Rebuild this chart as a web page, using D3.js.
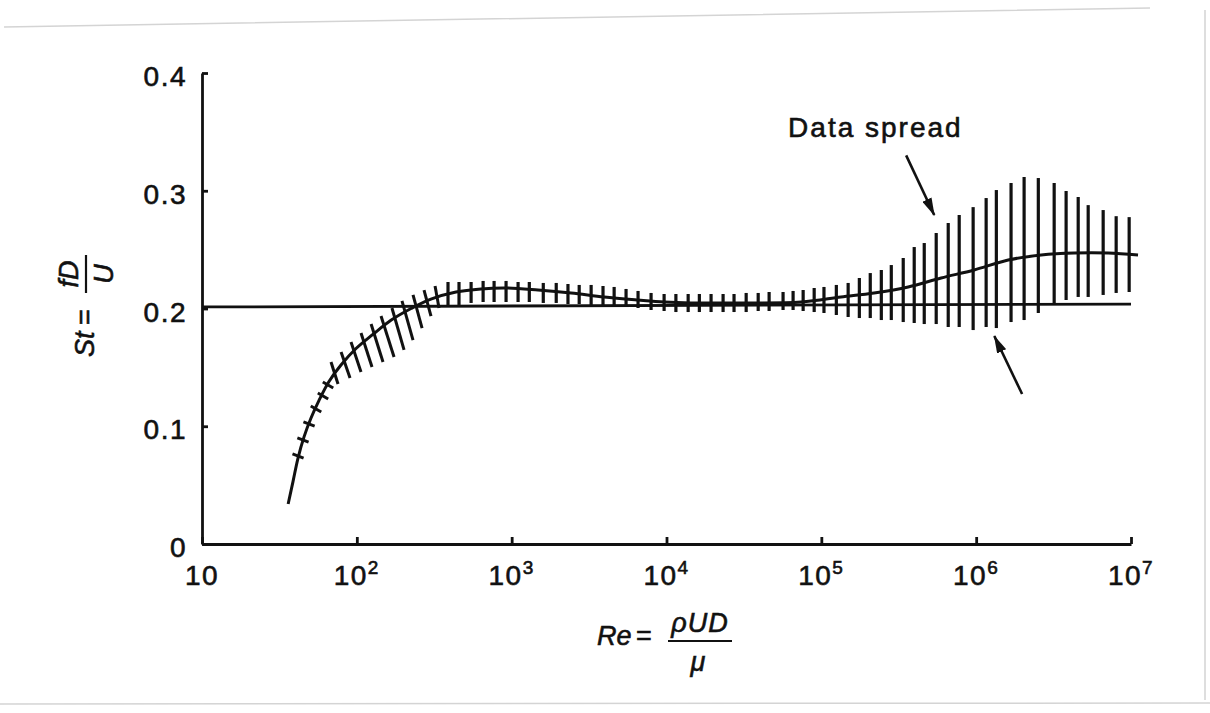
<!DOCTYPE html>
<html>
<head>
<meta charset="utf-8">
<script src="https://cdn.jsdelivr.net/npm/d3@7"></script>
<style>
    body { margin: 0; background: #fff; }
    svg { display: block; font-family: "Liberation Sans", Arial, Helvetica, sans-serif; }
    svg text { stroke: #111; stroke-width: 0.6px; }
    .axis path, .axis line { stroke: #111; stroke-width: 2.8; }
    .axis text { font-size: 28px; fill: #111; letter-spacing: 1.5px; }
    .math { font-style: italic; font-size: 27px; fill: #111; }
</style>
</head>
<body>
<div id="chart"></div>
<script>
    // main curve (Re, St)
    const curveRe = [36, 38.7, 41.7, 45.6, 50.6, 57, 66.1, 79, 98.8, 127, 166, 224, 301, 437, 634, 920,
        1480, 2420, 3950, 6560, 9660, 14400, 30300, 74100, 134000, 219000, 364000, 594000, 971000,
        1.61e6, 2.63e6, 4.3e6, 7.13e6, 1.11e7];
    const curveSt = [0.034, 0.053, 0.073, 0.091, 0.107, 0.122, 0.138, 0.152, 0.166, 0.178, 0.190, 0.200,
        0.208, 0.214, 0.2166, 0.2174, 0.2157, 0.2132, 0.2098, 0.2072, 0.2055, 0.2047, 0.2047, 0.2055,
        0.2098, 0.2132, 0.2183, 0.2259, 0.2327, 0.2412, 0.2454, 0.2471, 0.2471, 0.2454];

    // St = 0.2 reference line
    const refRe = [10, 1e7];
    const refSt = [0.2013, 0.2038];

    // slanted scatter marks at low Re: [Re top, St top, Re bottom, St bottom]
    const slantMarks = [
        [38.4, 0.0765, 45.3, 0.0730], [41.3, 0.0901, 48.8, 0.0865], [45.2, 0.1037, 53.4, 0.1001],
        [50.4, 0.1172, 58.9, 0.1121], [56.0, 0.1282, 65.3, 0.1231], [60.3, 0.1376, 70.4, 0.1325],
        [68.1, 0.1546, 75.6, 0.1359], [79.1, 0.1631, 90.4, 0.1410], [91.7, 0.1715, 106.4, 0.1461],
        [106.4, 0.1792, 125.3, 0.1503], [123.6, 0.1868, 147.6, 0.1546], [143.3, 0.1936, 173.9, 0.1588],
        [168.6, 0.2004, 201.8, 0.1648], [195.7, 0.2064, 230.6, 0.1732], [230.6, 0.2115, 263.8, 0.1834],
        [271.6, 0.2157, 301.2, 0.1936], [320, 0.2191, 339.5, 0.2004]
    ];

    // vertical data spread bars
    const spreadRe = [388, 457, 547, 654, 770, 920, 1100, 1300, 1600, 1940, 2310, 2730, 3260, 3890, 4590,
        5480, 6550, 7950, 9650, 11500, 13800, 16300, 19400, 23200, 27300, 32700, 39100, 46000, 56600,
        65700, 76300, 89900, 104000, 125000, 149000, 176000, 207000, 244000, 283000, 338000, 398000,
        462000, 552000, 660000, 777000, 956000, 1.16e6, 1.35e6, 1.68e6, 2.04e6, 2.52e6, 3.19e6, 3.81e6,
        4.56e6, 5.29e6, 6.61e6, 8.02e6, 9.73e6];
    const spreadHi = [0.2225, 0.2225, 0.2225, 0.2234, 0.2234, 0.2234, 0.2225, 0.2225, 0.2217, 0.2217,
        0.2208, 0.2200, 0.2200, 0.2191, 0.2183, 0.2166, 0.2149, 0.2132, 0.2123, 0.2123, 0.2123, 0.2123,
        0.2123, 0.2123, 0.2123, 0.2132, 0.2132, 0.2140, 0.2140, 0.2149, 0.2157, 0.2174, 0.2183, 0.2200,
        0.2217, 0.2259, 0.2301, 0.2327, 0.2369, 0.2429, 0.2522, 0.2556, 0.2641, 0.2726, 0.2794, 0.2861,
        0.2938, 0.3006, 0.3066, 0.3117, 0.3108, 0.3066, 0.2998, 0.2947, 0.2878, 0.2836, 0.2784, 0.2776];
    const spreadLo = [0.2013, 0.2030, 0.2047, 0.2055, 0.2055, 0.2055, 0.2055, 0.2055, 0.2047, 0.2047,
        0.2038, 0.2038, 0.2030, 0.2021, 0.2021, 0.2013, 0.2004, 0.1987, 0.1979, 0.1970, 0.1970, 0.1970,
        0.1970, 0.1970, 0.1970, 0.1970, 0.1979, 0.1979, 0.1987, 0.1987, 0.1979, 0.1970, 0.1962, 0.1945,
        0.1928, 0.1919, 0.1919, 0.1902, 0.1902, 0.1885, 0.1877, 0.1868, 0.1868, 0.1843, 0.1843, 0.1817,
        0.1843, 0.1834, 0.1885, 0.1902, 0.1962, 0.2030, 0.2072, 0.2098, 0.2098, 0.2115, 0.2132, 0.2140];

    const xTicks = [10, 1e2, 1e3, 1e4, 1e5, 1e6, 1e7];
    const yTicks = [0, 0.1, 0.2, 0.3, 0.4];

    const noteText = "Data spread";
    const notePos = [6.1e4, 0.3456];
    // arrows: [Re from, St from, Re to, St to]
    const arrows = [[3.53e5, 0.330, 5.36e5, 0.2794], [1.98e6, 0.1274, 1.31e6, 0.1766]];

    let margin = {top: 73, right: 79, bottom: 169, left: 202},
        width = 1210 - margin.left - margin.right,
        height = 713 - margin.top - margin.bottom;

    let root = d3.select("#chart")
        .append("svg")
        .attr("width", 1210)
        .attr("height", 713);

    // faint scanned page edges
    root.append("path")
        .attr("d", "M4,27 L1150,8 M1205,10 L1205,700 M0,704 L1210,703")
        .attr("fill", "none")
        .attr("stroke", "#d4d4d4")
        .attr("stroke-width", 1.5);

    let svg = root.append("g")
        .attr("transform", `translate(${margin.left}, ${margin.top})`);

    let defs = root.append("defs");
    defs.append("marker")
        .attr("id", "arrow")
        .attr("markerUnits", "userSpaceOnUse")
        .attr("viewBox", "0 0 18 10")
        .attr("refX", 17)
        .attr("refY", 5)
        .attr("markerWidth", 18)
        .attr("markerHeight", 10)
        .attr("orient", "auto")
        .append("path")
        .attr("d", "M0,0 L18,5 L0,10 Z")
        .attr("fill", "#111");

    let x = d3.scaleLog()
        .domain([10, 1e7])
        .range([0, width]);
    let y = d3.scaleLinear()
        .domain([0, 0.4])
        .range([height, 0]);

    // axes
    svg.append("g")
        .attr("class", "axis")
        .attr("transform", `translate(0, ${height})`)
        .call(d3.axisBottom(x).tickValues(xTicks).tickSize(-7).tickSizeOuter(0).tickFormat(""));
    svg.append("g")
        .attr("class", "axis")
        .call(d3.axisLeft(y).tickValues(yTicks).tickSize(-6).tickSizeOuter(0).tickPadding(15)
            .tickFormat(d => d === 0 ? "0" : d.toFixed(1)))
        .selectAll("text")
        .attr("dy", "0.45em");

    svg.selectAll(".xlab")
        .data(xTicks)
        .join("text")
        .attr("class", "xlab")
        .attr("x", d => x(d))
        .attr("y", height + 41)
        .attr("text-anchor", "middle")
        .style("font-size", "28px")
        .style("letter-spacing", "1.5px")
        .attr("fill", "#111")
        .each(function(d){
            let t = d3.select(this);
            let e = Math.round(Math.log10(d));
            t.append("tspan").text("10");
            if (e > 1) t.append("tspan").attr("dy", -11).style("font-size", "19px").text(e);
        });

    // reference line and curve
    svg.append("path")
        .datum(refRe.map((r, i) => [r, refSt[i]]))
        .attr("fill", "none")
        .attr("stroke", "#111")
        .attr("stroke-width", 2.8)
        .attr("d", d3.line().x(d => x(d[0])).y(d => y(d[1])));

    svg.append("path")
        .datum(curveRe.map((r, i) => [r, curveSt[i]]))
        .attr("fill", "none")
        .attr("stroke", "#111")
        .attr("stroke-width", 3)
        .attr("d", d3.line().curve(d3.curveCatmullRom).x(d => x(d[0])).y(d => y(d[1])));

    // hatch marks
    svg.selectAll(".slant")
        .data(slantMarks)
        .join("line")
        .attr("class", "slant")
        .attr("x1", d => x(d[0]))
        .attr("y1", d => y(d[1]))
        .attr("x2", d => x(d[2]))
        .attr("y2", d => y(d[3]))
        .attr("stroke", "#111")
        .attr("stroke-width", 3);

    svg.selectAll(".spread")
        .data(spreadRe)
        .join("line")
        .attr("class", "spread")
        .attr("x1", d => x(d))
        .attr("x2", d => x(d))
        .attr("y1", (d, i) => y(spreadHi[i]))
        .attr("y2", (d, i) => y(spreadLo[i]))
        .attr("stroke", "#111")
        .attr("stroke-width", 3.2);

    // annotation
    svg.append("text")
        .attr("x", x(notePos[0]))
        .attr("y", y(notePos[1]))
        .style("font-size", "28px")
        .style("letter-spacing", "2px")
        .attr("fill", "#111")
        .text(noteText);

    svg.selectAll(".arrow")
        .data(arrows)
        .join("line")
        .attr("class", "arrow")
        .attr("x1", d => x(d[0]))
        .attr("y1", d => y(d[1]))
        .attr("x2", d => x(d[2]))
        .attr("y2", d => y(d[3]))
        .attr("stroke", "#111")
        .attr("stroke-width", 2.6)
        .attr("marker-end", "url(#arrow)");

    // x title: Re = rho U D / mu
    let xt = root.append("g")
        .attr("transform", "translate(597, 645)");
    xt.append("text").attr("class", "math").attr("x", 0).attr("y", 0).text("Re");
    xt.append("text").attr("class", "math").attr("x", 39).attr("y", 0).style("font-style", "normal").text("=");
    xt.append("text").attr("class", "math").attr("x", 103).attr("y", -13).attr("text-anchor", "middle")
        .style("letter-spacing", "1px").text("\u03C1UD");
    xt.append("line").attr("x1", 71).attr("x2", 135).attr("y1", -4).attr("y2", -4)
        .attr("stroke", "#111").attr("stroke-width", 2.2);
    xt.append("text").attr("class", "math").attr("x", 101).attr("y", 26).attr("text-anchor", "middle").text("\u03BC");

    // y title: St = fD / U
    let yt = root.append("g")
        .attr("transform", "translate(94, 357) rotate(-90)");
    yt.append("text").attr("class", "math").attr("x", 0).attr("y", 0).text("St");
    yt.append("text").attr("class", "math").attr("x", 32).attr("y", 0).style("font-style", "normal").text("=");
    yt.append("text").attr("class", "math").attr("x", 83).attr("y", -16).attr("text-anchor", "middle").text("fD");
    yt.append("line").attr("x1", 64).attr("x2", 102).attr("y1", -8).attr("y2", -8)
        .attr("stroke", "#111").attr("stroke-width", 2.2);
    yt.append("text").attr("class", "math").attr("x", 83).attr("y", 19).attr("text-anchor", "middle").text("U");
</script>
</body>
</html>
